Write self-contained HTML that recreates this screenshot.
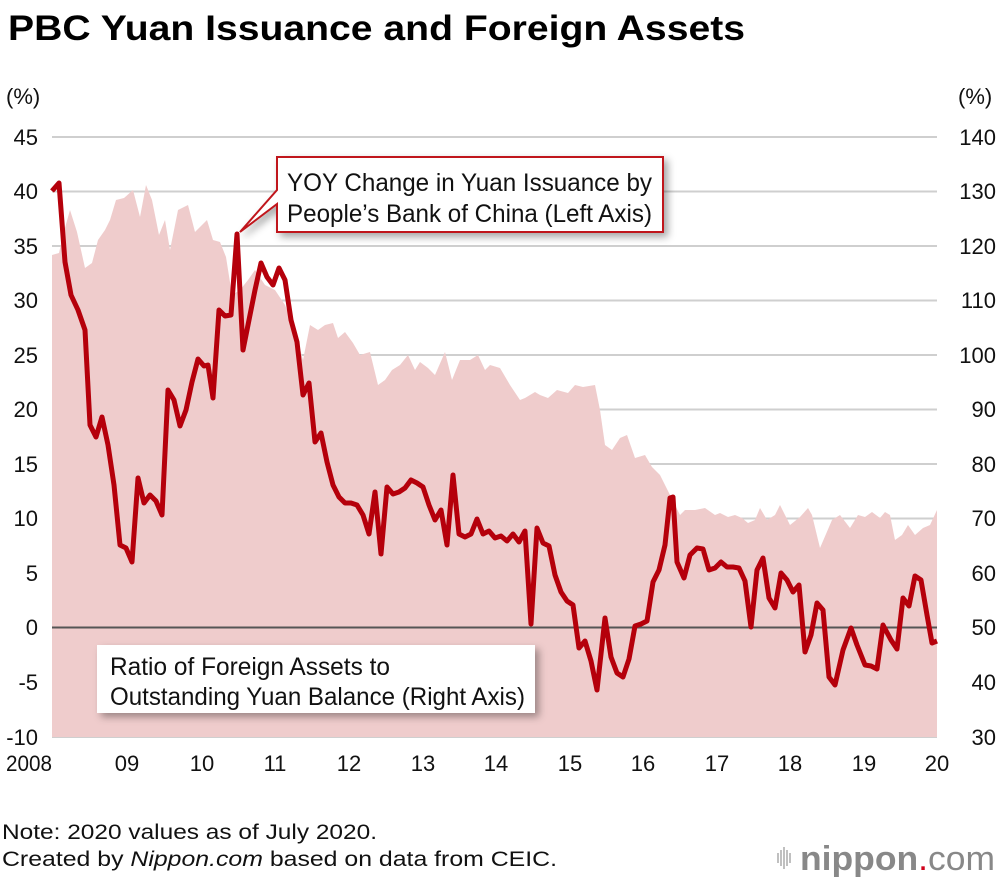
<!DOCTYPE html>
<html><head><meta charset="utf-8"><style>
html,body{margin:0;padding:0;background:#fff;}
svg{display:block;}
.t{font-family:"Liberation Sans Narrow","Liberation Sans",sans-serif;}
</style></head><body>
<svg width="1000" height="880" viewBox="0 0 1000 880" xmlns="http://www.w3.org/2000/svg">
<defs>
<filter id="sh" x="-10%" y="-20%" width="130%" height="160%"><feDropShadow dx="4" dy="4" stdDeviation="4" flood-color="#000" flood-opacity="0.35"/></filter>
</defs>
<text x="8" y="40" font-family="Liberation Sans, sans-serif" font-weight="bold" font-size="35" fill="#000" textLength="737" lengthAdjust="spacingAndGlyphs">PBC Yuan Issuance and Foreign Assets</text>
<g class="t" font-size="22" fill="#111">
<text x="6" y="104">(%)</text><text x="958" y="104">(%)</text>
</g>
<g stroke="#cfcfcf" stroke-width="2">
<line x1="52" x2="937" y1="137" y2="137"/><line x1="52" x2="937" y1="191.5" y2="191.5"/><line x1="52" x2="937" y1="246" y2="246"/><line x1="52" x2="937" y1="300.5" y2="300.5"/><line x1="52" x2="937" y1="355" y2="355"/><line x1="52" x2="937" y1="409.5" y2="409.5"/><line x1="52" x2="937" y1="464" y2="464"/><line x1="52" x2="937" y1="518.5" y2="518.5"/><line x1="52" x2="937" y1="573" y2="573"/><line x1="52" x2="937" y1="682" y2="682"/><line x1="52" x2="937" y1="737" y2="737"/>
</g>
<polygon fill="#efcccc" points="52,737 52,255 59,253 63,235 70,210 77,232 85,268 92,263 98,240 105,230 110,220 116,200 124,198 133,190 140,217 146,185 152,200 159,235 165,220 170,250 178,210 188,205 195,232 207,220 213,240 220,242 226,257 232,295 240,290 248,280 255,270 265,285 275,290 285,305 295,330 303,360 310,325 318,330 325,325 333,323 338,338 345,332 353,343 360,355 370,352 378,385 385,380 392,370 400,365 408,355 415,370 420,362 428,368 435,375 445,352 452,380 460,360 470,360 478,355 485,370 490,365 500,368 510,385 520,400 525,398 535,392 540,395 548,398 557,390 568,393 575,385 583,387 595,385 600,410 605,445 612,450 620,438 627,435 635,458 645,455 652,467 660,475 670,495 680,515 685,510 695,510 705,508 715,515 720,513 728,517 735,515 742,518 748,523 755,520 760,508 767,520 775,515 780,505 785,515 790,525 800,517 808,508 812,515 820,548 832,520 840,515 850,528 858,515 865,517 872,512 880,518 885,512 890,515 895,540 902,535 908,525 915,535 923,528 930,525 937,510 937,737"/>
<line x1="52" x2="937" y1="627.5" y2="627.5" stroke="#555" stroke-width="2"/>
<polyline fill="none" stroke="#b5000b" stroke-width="5" stroke-linejoin="round" points="52,191 59,183 65,262 71,295 78,310 85,330 90,425 96,437 102,417 108,445 114,485 120,545 126,548 132,562 138,478 144,503 150,495 156,501 162,515 168,390 174,400 180,426 186,410 192,382 198,359 204,366 208,365 213,398 219,310 225,316 231,315 237,234 243,350 249,320 255,290 261,263 267,277 273,285 279,268 285,280 291,320 297,342 303,395 309,383 315,442 321,433 327,462 333,485 339,497 345,503 351,503 357,505 363,515 369,534 375,492 381,554 387,487 393,494 399,492 405,488 411,480 417,483 423,487 429,505 435,520 441,510 447,545 453,475 459,534 465,537 471,534 477,519 483,534 489,531 495,538 501,536 507,541 513,534 519,542 525,531 531,624 537,528 543,543 549,546 555,575 561,592 567,601 573,605 579,648 585,641 591,661 597,690 605,618 611,657 617,673 623,677 629,659 635,626 641,624 647,621 653,582 659,570 665,545 670,498 673,497 677,562 684,578 690,555 697,548 703,549 709,570 715,568 721,562 727,567 733,567 739,568 745,581 751,627 757,570 763,558 769,598 775,608 781,573 787,580 793,592 799,585 805,652 811,635 817,603 823,610 829,677 835,685 843,650 851,628 857,645 865,665 871,666 877,669 883,625 891,640 897,649 903,598 909,606 915,576 921,580 927,615 932,643 937,641"/>
<g class="t" font-size="22" fill="#111" text-anchor="end">
<text x="38" y="145">45</text><text x="38" y="199">40</text><text x="38" y="254">35</text><text x="38" y="308">30</text><text x="38" y="363">25</text><text x="38" y="417">20</text><text x="38" y="472">15</text><text x="38" y="526">10</text><text x="38" y="581">5</text><text x="38" y="635">0</text><text x="38" y="690">-5</text><text x="38" y="745">-10</text>
</g>
<g class="t" font-size="22" fill="#111" text-anchor="end">
<text x="996" y="145">140</text><text x="996" y="199">130</text><text x="996" y="254">120</text><text x="996" y="308">110</text><text x="996" y="363">100</text><text x="996" y="417">90</text><text x="996" y="472">80</text><text x="996" y="526">70</text><text x="996" y="581">60</text><text x="996" y="635">50</text><text x="996" y="690">40</text><text x="996" y="745">30</text>
</g>
<g class="t" font-size="22" fill="#111" text-anchor="middle">
<text x="29" y="771" textLength="46" lengthAdjust="spacingAndGlyphs">2008</text><text x="127" y="771">09</text><text x="202" y="771">10</text><text x="275" y="771">11</text><text x="349" y="771">12</text><text x="423" y="771">13</text><text x="496" y="771">14</text><text x="570" y="771">15</text><text x="643" y="771">16</text><text x="717" y="771">17</text><text x="790" y="771">18</text><text x="864" y="771">19</text><text x="937" y="771">20</text>
</g>
<path d="M277,157 H663 V232 H277 V204 L240,232 L277,190 Z" fill="#fff" stroke="#c0141c" stroke-width="2" filter="url(#sh)"/>
<g class="t" font-size="25" fill="#111">
<text x="287" y="191" textLength="365" lengthAdjust="spacingAndGlyphs">YOY Change in Yuan Issuance by</text>
<text x="287" y="222" textLength="365" lengthAdjust="spacingAndGlyphs">People’s Bank of China (Left Axis)</text>
</g>
<rect x="97" y="645" width="438" height="68" fill="#fff" filter="url(#sh)"/>
<g class="t" font-size="25" fill="#111">
<text x="110" y="675" textLength="280" lengthAdjust="spacingAndGlyphs">Ratio of Foreign Assets to</text>
<text x="110" y="705" textLength="415" lengthAdjust="spacingAndGlyphs">Outstanding Yuan Balance (Right Axis)</text>
</g>
<g class="t" font-size="21" fill="#111">
<text x="2" y="839" textLength="375" lengthAdjust="spacingAndGlyphs">Note: 2020 values as of July 2020.</text>
<text x="2" y="866" textLength="555" lengthAdjust="spacingAndGlyphs">Created by <tspan font-style="italic">Nippon.com</tspan> based on data from CEIC.</text>
</g>
<g stroke="#aaa" stroke-width="1.5">
<line x1="778" x2="778" y1="853" y2="863"/><line x1="781" x2="781" y1="850" y2="866"/><line x1="784" x2="784" y1="847" y2="869"/><line x1="787" x2="787" y1="850" y2="866"/><line x1="790" x2="790" y1="853" y2="863"/>
</g>
<text x="800" y="870" font-family="Liberation Sans, sans-serif" font-size="34" fill="#888" textLength="195" lengthAdjust="spacingAndGlyphs"><tspan font-weight="bold">nippon</tspan><tspan fill="#d0021b">.</tspan><tspan>com</tspan></text>
</svg>
</body></html>
